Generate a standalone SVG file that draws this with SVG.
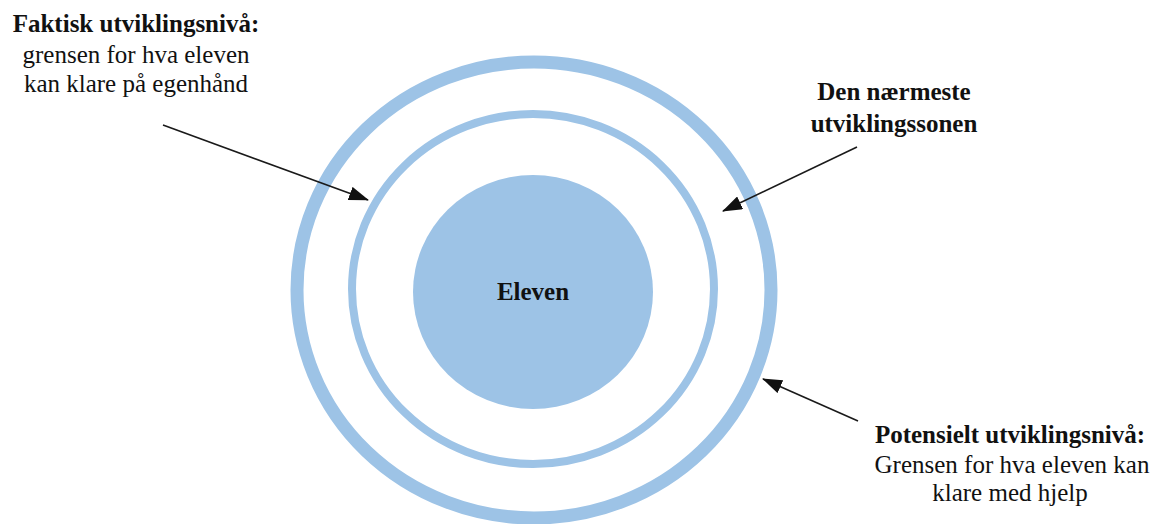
<svg xmlns="http://www.w3.org/2000/svg" width="1154" height="524" viewBox="0 0 1154 524">
  <style>
    .ring { fill: none; stroke: #9DC3E6; }
    .disc { fill: #9DC3E6; }
    .t { font-family: "Liberation Serif", "Times New Roman", serif; font-size: 25px; fill: #111; text-anchor: middle; }
    .b { font-weight: bold; }
    .conn { stroke: #1a1a1a; stroke-width: 1.6; fill: none; marker-end: url(#arr); }
  </style>
  <defs>
    <marker id="arr" viewBox="0 0 20 14" refX="19" refY="7" markerWidth="20" markerHeight="14" markerUnits="userSpaceOnUse" orient="auto">
      <path d="M0,0 L20,7 L0,14 Z" fill="#111"/>
    </marker>
  </defs>
  <rect width="1154" height="524" fill="#fff"/>
  <g id="outer-ring">
    <ellipse class="ring" cx="534" cy="290" rx="237" ry="228" stroke-width="13"/>
  </g>
  <g id="inner-ring">
    <ellipse class="ring" cx="533" cy="289" rx="181" ry="175" stroke-width="8"/>
  </g>
  <g id="eleven">
    <ellipse class="disc" cx="533" cy="292" rx="120" ry="117"/>
    <text class="t b" x="533" y="300">Eleven</text>
  </g>
  <g id="label-faktisk">
    <text class="t b" x="136" y="32">Faktisk utviklingsnivå:</text>
    <text class="t" x="136" y="63">grensen for hva eleven</text>
    <text class="t" x="136" y="92">kan klare på egenhånd</text>
  </g>
  <g id="label-naermeste">
    <text class="t b" x="894" y="100">Den nærmeste</text>
    <text class="t b" x="894" y="132">utviklingssonen</text>
  </g>
  <g id="label-potensielt">
    <text class="t b" x="1010" y="443">Potensielt utviklingsnivå:</text>
    <text class="t" x="1012" y="473">Grensen for hva eleven kan</text>
    <text class="t" x="1010" y="501">klare med hjelp</text>
  </g>
  <g id="connectors">
    <line class="conn" x1="163" y1="125" x2="368" y2="200"/>
    <line class="conn" x1="857" y1="147" x2="723" y2="211"/>
    <line class="conn" x1="858" y1="421" x2="763" y2="379"/>
  </g>
</svg>
